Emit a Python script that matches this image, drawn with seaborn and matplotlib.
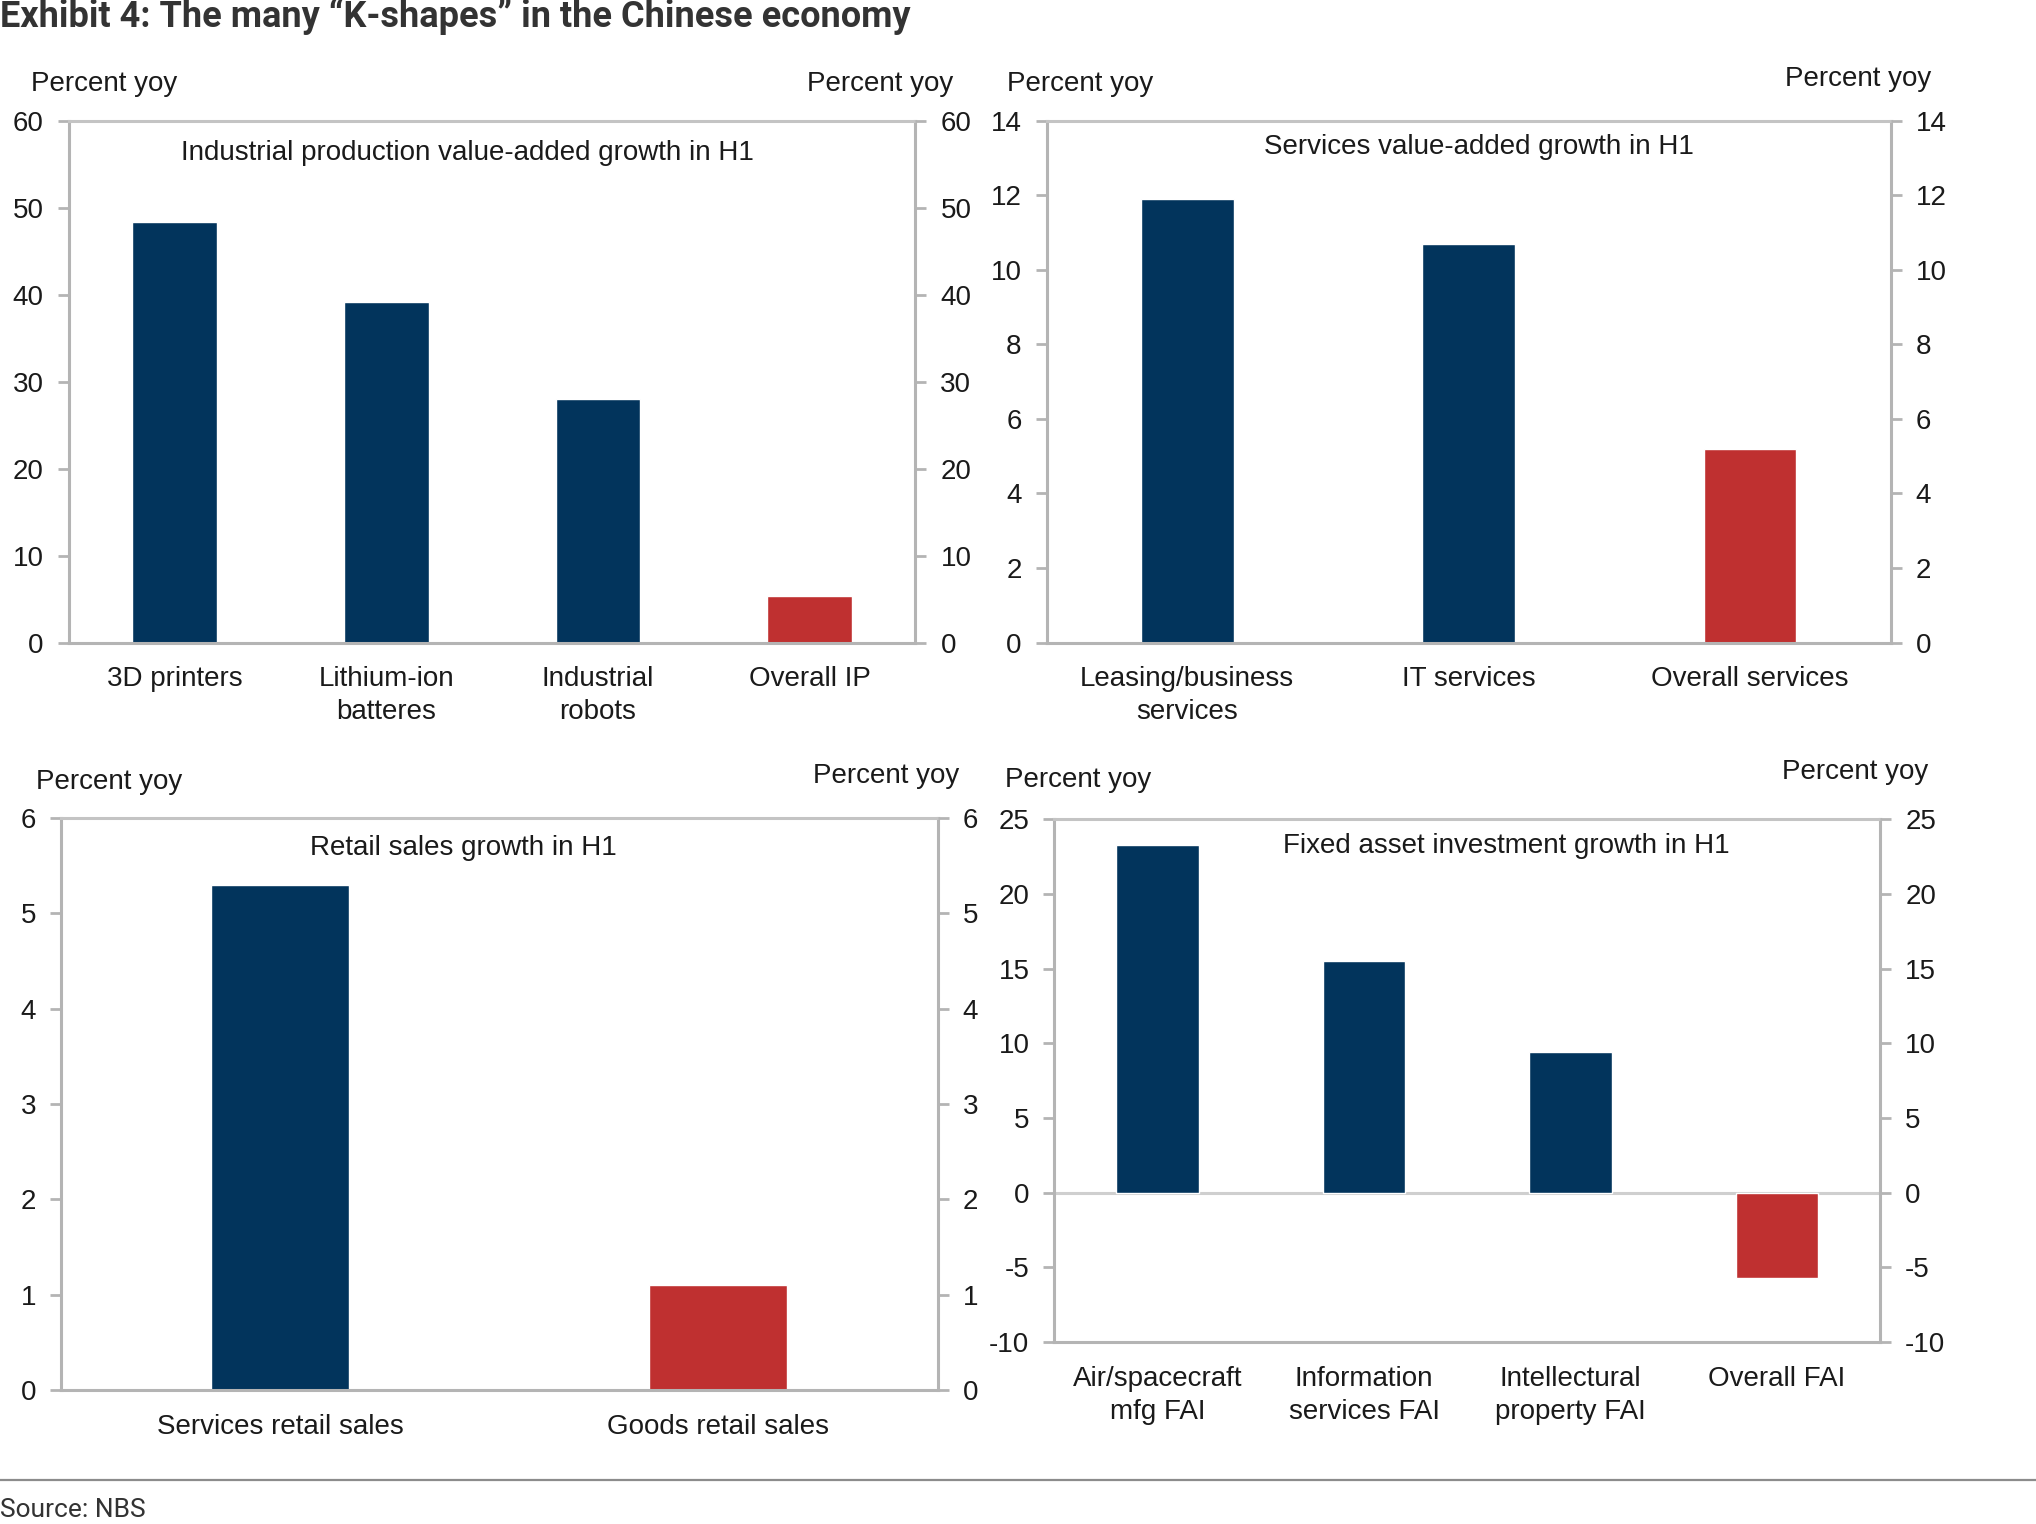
import matplotlib
matplotlib.use("Agg")
import matplotlib.pyplot as plt
import matplotlib.lines as mlines
import seaborn as sns
import pandas as pd

# ---- data ----
ip_labels = ["3D printers", "Lithium-ion\nbatteres", "Industrial\nrobots", "Overall IP"]
ip_values = [48.4, 39.2, 28.0, 5.3]

svc_labels = ["Leasing/business\nservices", "IT services", "Overall services"]
svc_values = [11.9, 10.7, 5.2]

retail_labels = ["Services retail sales", "Goods retail sales"]
retail_values = [5.3, 1.1]

fai_labels = ["Air/spacecraft\nmfg FAI", "Information\nservices FAI", "Intellectural\nproperty FAI", "Overall FAI"]
fai_values = [23.3, 15.5, 9.4, -5.7]

ip_ticks = [0, 10, 20, 30, 40, 50, 60]
svc_ticks = [0, 2, 4, 6, 8, 10, 12, 14]
retail_ticks = [0, 1, 2, 3, 4, 5, 6]
fai_ticks = [-10, -5, 0, 5, 10, 15, 20, 25]

NAVY = "#02345C"
RED = "#BF3030"
SPINE = "#B4B4B4"

sns.set_theme(style="white")
plt.rcParams["font.family"] = ["Liberation Sans", "DejaVu Sans"]

FS = 20

fig = plt.figure(figsize=(20.36, 15.24), dpi=100)

panels = [
    dict(rect=[0.0338, 0.5784, 0.4158, 0.3424], labels=ip_labels, values=ip_values,
         ticks=ip_ticks, width=0.40, title="Industrial production value-added growth in H1",
         tpos=(0.2296, 0.8995), lpos=(0.051, 0.9446), rpos=(0.4324, 0.9446)),
    dict(rect=[0.5140, 0.5784, 0.4146, 0.3424], labels=svc_labels, values=svc_values,
         ticks=svc_ticks, width=0.33, title="Services value-added growth in H1",
         tpos=(0.7264, 0.9037), lpos=(0.5306, 0.9446), rpos=(0.9126, 0.948)),
    dict(rect=[0.0300, 0.0877, 0.4305, 0.3757], labels=retail_labels, values=retail_values,
         ticks=retail_ticks, width=0.315, title="Retail sales growth in H1",
         tpos=(0.2277, 0.4438), lpos=(0.0536, 0.4872), rpos=(0.435, 0.4906)),
    dict(rect=[0.5179, 0.1193, 0.4056, 0.3432], labels=fai_labels, values=fai_values,
         ticks=fai_ticks, width=0.40, title="Fixed asset investment growth in H1",
         tpos=(0.7398, 0.4446), lpos=(0.5293, 0.4881), rpos=(0.9114, 0.4932)),
]

for p in panels:
    ax = fig.add_axes(p["rect"])
    n = len(p["labels"])
    df = pd.DataFrame({"cat": p["labels"], "val": p["values"]})
    colors = [NAVY] * (n - 1) + [RED]
    sns.barplot(data=df, x="cat", y="val", hue="cat", palette=colors, legend=False,
                width=p["width"], ax=ax, saturation=1)
    lo, hi = p["ticks"][0], p["ticks"][-1]
    ax.set_ylim(lo, hi)
    ax.set_xlim(-0.5, n - 0.5)
    ax.set_yticks(p["ticks"])
    ax.set_yticklabels([str(t) for t in p["ticks"]], fontsize=FS)
    ax.set_xlabel("")
    ax.set_ylabel("")
    ax.tick_params(axis="x", length=0, pad=17, labelsize=FS, colors="#1a1a1a")
    ax.tick_params(axis="y", length=8, width=2, color=SPINE, direction="out", pad=10,
                   labelcolor="#1a1a1a")
    for s in ["left", "right", "top", "bottom"]:
        ax.spines[s].set_visible(True)
        ax.spines[s].set_color(SPINE)
        ax.spines[s].set_linewidth(2.2)
    ax.spines["top"].set_color("#C4C4C4")
    if lo < 0:
        ax.axhline(0, color="#CFCFCF", lw=2.2, zorder=0.5)
    for lab in ax.get_xticklabels():
        lab.set_linespacing(1.35)
    # right axis
    ax2 = ax.twinx()
    ax2.set_ylim(lo, hi)
    ax2.set_yticks(p["ticks"])
    ax2.set_yticklabels([str(t) for t in p["ticks"]], fontsize=FS)
    ax2.tick_params(axis="y", length=8, width=2, color=SPINE, direction="out", pad=10,
                    labelcolor="#1a1a1a")
    ax2.grid(False)
    for s in ["left", "right", "top", "bottom"]:
        ax2.spines[s].set_visible(False)
    ax.grid(False)

    fig.text(p["tpos"][0], p["tpos"][1], p["title"], ha="center", va="center",
             fontsize=FS, color="#1a1a1a")
    fig.text(p["lpos"][0], p["lpos"][1], "Percent yoy", ha="center", va="center",
             fontsize=FS, color="#1a1a1a")
    fig.text(p["rpos"][0], p["rpos"][1], "Percent yoy", ha="center", va="center",
             fontsize=FS, color="#1a1a1a")

fig.text(0.0, 0.989, "Exhibit 4: The many \u201cK-shapes\u201d in the Chinese economy",
         ha="left", va="center", fontsize=26, fontweight="bold", color="#333333",
         family=["Roboto", "DejaVu Sans"])
fig.add_artist(mlines.Line2D([0, 1], [0.029, 0.029], transform=fig.transFigure,
                             color="#8C8C8C", lw=1.6))
fig.text(0.0, 0.0094, "Source: NBS", ha="left", va="center", fontsize=19,
         color="#333333", family=["Roboto", "DejaVu Sans"])

fig.savefig("out.png", dpi=100)
